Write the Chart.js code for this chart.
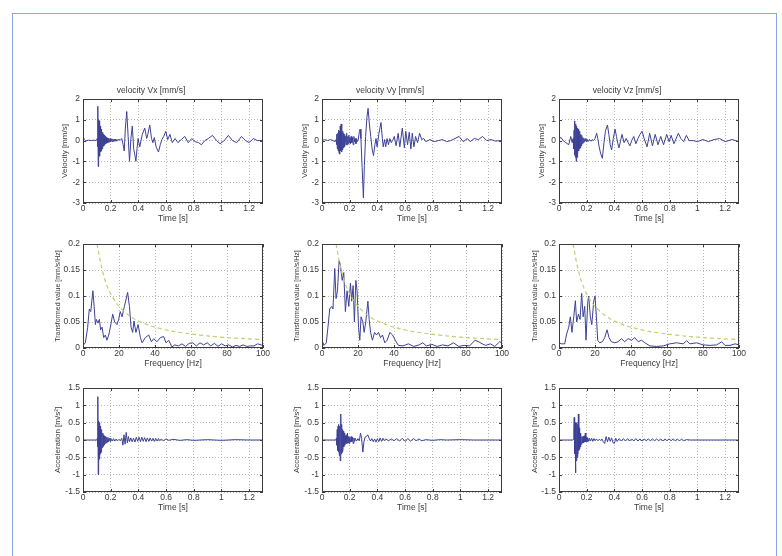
<!DOCTYPE html>
<html>
<head>
<meta charset="utf-8">
<title>Velocity, spectrum and acceleration</title>
<script src="https://cdn.jsdelivr.net/npm/chart.js@4.4.1/dist/chart.umd.min.js"></script>
<style>
body{margin:0;background:#fff;width:782px;height:556px;overflow:hidden;position:relative;}
#frame{position:absolute;left:12px;top:13px;width:763px;height:600px;border:1px solid #8aa5de;}
canvas{position:absolute;}
</style>
</head>
<body>
<div id="frame"></div>
<canvas id="v1" width="238" height="147" style="left:39px;top:82px"></canvas>
<canvas id="v2" width="238" height="147" style="left:278px;top:82px"></canvas>
<canvas id="v3" width="238" height="147" style="left:515px;top:82px"></canvas>
<canvas id="f1" width="238" height="138" style="left:39px;top:236px"></canvas>
<canvas id="f2" width="238" height="138" style="left:278px;top:236px"></canvas>
<canvas id="f3" width="238" height="138" style="left:515px;top:236px"></canvas>
<canvas id="a1" width="238" height="138" style="left:39px;top:380px"></canvas>
<canvas id="a2" width="238" height="138" style="left:278px;top:380px"></canvas>
<canvas id="a3" width="238" height="138" style="left:515px;top:380px"></canvas>
<script>
// tick labels
var timeTicks = [0, 0.2, 0.4, 0.6, 0.8, 1, 1.2];
var timeMax = 1.3;
var velTicks = [-3, -2, -1, 0, 1, 2];
var freqTicks = [0, 20, 40, 60, 80, 100];
var fftTicks = [0, 0.05, 0.1, 0.15, 0.2];
var accTicks = [-1.5, -1, -0.5, 0, 0.5, 1, 1.5];

// velocity Vx [mm/s]
var vxT = [0,0.01,0.02,0.04,0.06,0.08,0.095,0.103,0.106,0.108,0.110,0.112,0.114,0.116,0.118,0.120,0.122,0.124,0.126,0.128,0.130,0.132,0.134,0.136,0.138,0.141,0.144,0.147,0.150,0.153,0.156,0.160,0.164,0.168,0.172,0.176,0.18,0.185,0.19,0.195,0.2,0.205,0.21,0.215,0.22,0.225,0.23,0.235,0.24,0.245,0.25,0.26,0.27,0.28,0.29,0.298,0.306,0.316,0.326,0.336,0.346,0.356,0.366,0.372,0.382,0.39,0.398,0.41,0.428,0.446,0.46,0.468,0.482,0.495,0.505,0.515,0.528,0.545,0.558,0.57,0.583,0.598,0.612,0.628,0.645,0.665,0.685,0.71,0.735,0.76,0.785,0.81,0.835,0.855,0.88,0.905,0.935,0.965,0.99,1.02,1.05,1.08,1.11,1.145,1.175,1.2,1.23,1.26,1.3];
var vxV = [0.2,0.05,-0.02,0.02,0,0.02,0,0.1,-0.3,1.65,-1.25,1.0,-0.7,0.95,-0.6,0.8,-0.75,0.7,-0.55,0.65,-0.5,0.55,-0.45,0.45,-0.4,0.4,-0.3,0.3,-0.25,0.25,-0.2,0.2,-0.15,0.15,-0.12,0.12,-0.1,0.1,-0.08,0.1,-0.05,0.08,-0.05,0.08,-0.04,0.06,-0.03,0.07,-0.02,0.06,0,0.06,0.02,0.1,-0.2,-0.5,0.6,1.4,0.2,-1.0,0.1,0.7,-0.4,-0.6,-1.0,-0.4,0.1,-0.3,0.3,0.6,0.1,0.3,0.75,0.1,-0.1,0.15,-0.3,-0.55,-0.2,0.05,0.2,0.45,0.05,0.3,-0.1,0.1,-0.1,0.05,0.2,-0.1,0.1,-0.05,-0.1,-0.2,0,0.1,0.25,0,-0.15,0,0.25,0,-0.1,0.2,0,-0.1,0.1,0,0];

// velocity Vy [mm/s]
var vyT = [0,0.02,0.04,0.06,0.08,0.095,0.102,0.105,0.108,0.111,0.114,0.117,0.12,0.123,0.126,0.129,0.132,0.135,0.138,0.141,0.144,0.147,0.15,0.153,0.156,0.159,0.162,0.166,0.17,0.174,0.178,0.182,0.186,0.19,0.194,0.198,0.202,0.206,0.21,0.215,0.22,0.225,0.23,0.235,0.24,0.245,0.25,0.255,0.262,0.27,0.275,0.281,0.29,0.299,0.306,0.315,0.324,0.333,0.342,0.352,0.362,0.372,0.382,0.39,0.398,0.41,0.426,0.436,0.442,0.452,0.46,0.47,0.48,0.49,0.5,0.51,0.522,0.535,0.55,0.562,0.58,0.595,0.605,0.618,0.63,0.642,0.652,0.664,0.676,0.69,0.705,0.72,0.735,0.75,0.78,0.81,0.84,0.87,0.9,0.93,0.96,0.99,1.02,1.05,1.07,1.1,1.13,1.16,1.19,1.22,1.25,1.3];
var vyV = [0,0.05,0,0.05,0,-0.05,0.05,-0.2,0.3,-0.4,0.35,-0.5,0.5,-0.6,0.45,-0.65,0.7,-0.5,0.8,-0.55,0.5,-0.45,0.45,-0.35,0.35,-0.3,0.3,-0.25,0.2,-0.2,0.35,-0.2,0.2,-0.15,0.25,-0.1,0.15,-0.15,0.2,-0.1,0.15,-0.2,0.2,-0.05,0.1,-0.15,0.1,-0.05,0.05,0.45,0.55,0.1,-1.3,-2.75,-1.2,0.2,1.1,1.55,0.8,0.2,-0.4,-0.72,-0.2,0.1,-0.3,0.3,0.87,0.1,-0.3,0.05,-0.3,0.1,-0.2,0.1,-0.1,0,0.2,-0.25,0.35,-0.3,0.6,-0.35,0.45,-0.2,0.4,-0.4,0.35,-0.3,0.2,-0.1,0.35,0.05,0.1,-0.05,0.05,-0.05,0,0.05,-0.05,0,0.1,0.2,-0.05,0.1,-0.05,0.1,0.05,0.2,0,0.05,-0.02,0];

// velocity Vz [mm/s]
var vzT = [0,0.015,0.03,0.05,0.07,0.085,0.095,0.102,0.106,0.109,0.112,0.115,0.118,0.121,0.124,0.127,0.13,0.133,0.136,0.139,0.142,0.145,0.148,0.151,0.154,0.157,0.16,0.164,0.168,0.172,0.176,0.18,0.185,0.19,0.195,0.2,0.21,0.22,0.23,0.24,0.25,0.26,0.272,0.28,0.29,0.3,0.313,0.325,0.335,0.35,0.36,0.37,0.38,0.392,0.405,0.415,0.425,0.433,0.445,0.455,0.47,0.485,0.5,0.512,0.525,0.54,0.555,0.57,0.585,0.6,0.615,0.636,0.655,0.675,0.695,0.715,0.735,0.755,0.778,0.795,0.81,0.83,0.862,0.88,0.9,0.92,0.94,0.97,1.0,1.04,1.08,1.12,1.16,1.2,1.25,1.3];
var vzV = [0.1,0.15,0,-0.1,-0.2,0.2,-0.1,0.1,-0.4,0.5,-0.7,0.95,-0.8,0.8,-1.0,0.7,-0.8,0.6,-0.6,0.55,-0.5,0.45,-0.4,0.35,-0.35,0.3,-0.25,0.25,-0.15,0.15,-0.1,0.1,-0.05,0.1,-0.05,0.08,-0.05,0.06,-0.03,0.05,0,0.1,0.35,0.1,-0.3,-0.6,-0.85,-0.1,0.45,0.75,0.3,-0.2,-0.45,0.1,0.55,0.2,-0.15,-0.35,0,0.3,-0.1,0.1,-0.1,-0.25,0,0.2,-0.15,0.1,0.3,0.45,0.1,-0.3,0.35,-0.25,0.3,-0.2,0.2,-0.2,0.3,-0.05,0.25,-0.15,0.35,0.1,-0.05,0.25,0,0,-0.05,0.05,-0.05,0.05,0.1,-0.05,0.05,-0.05];

// spectra [mm/s/Hz]
var fxF = [0,1.3,2.6,3.5,4.3,5.5,6.2,6.9,7.4,8.3,9.1,9.8,10.6,11.5,12.4,13.3,14.3,15.2,16.5,17.6,18.9,19.8,20.7,21.7,23,24.8,25.8,26.7,27.6,28.3,29.4,30.6,31.9,32.8,34.6,36.5,38,39.3,41.1,43,44.8,46.1,47.6,49.4,51,53,55,57,59,61,63,65,67,69,71,73,75,77,79,81,83,85,87,89,91,93,95,97,99,100];
var fxV = [0.005,0.01,0.04,0.075,0.07,0.11,0.08,0.045,0.055,0.048,0.055,0.035,0.04,0.02,0.025,0.015,0.025,0.04,0.065,0.05,0.045,0.055,0.07,0.06,0.08,0.107,0.08,0.04,0.03,0.052,0.03,0.045,0.02,0.01,0.02,0.025,0.012,0.018,0.012,0.02,0.022,0.01,0.015,0.002,0.006,0.004,0.008,0.003,0.009,0.01,0.004,0.01,0.006,0.01,0.004,0.009,0.003,0.008,0.004,0.006,0.002,0.005,0.003,0.006,0.003,0.004,0.004,0.008,0.006,0.005];
var fyF = [0,1.1,2.4,3.3,4.3,5.4,6.1,7.1,7.8,8.6,9.5,10.2,11.2,12.1,13,13.9,14.9,15.8,16.5,17.3,18,18.8,19.5,20.3,21,21.7,22.7,23.4,24.3,25.5,26.2,27,28,29.2,30.3,31.4,32.5,33.6,34.9,36.2,37.7,39.2,40.7,42.4,45,48,51,54,56,58,61,64,67,70,73,76,79,82,85,87,89,91,93.5,96,98.7,100];
var fyV = [0.015,0.005,0.01,0.04,0.075,0.08,0.075,0.153,0.095,0.11,0.168,0.16,0.13,0.145,0.07,0.11,0.08,0.125,0.09,0.12,0.05,0.13,0.11,0.04,0.015,0.06,0.05,0.03,0.05,0.09,0.055,0.03,0.015,0.03,0.025,0.03,0.02,0.025,0.01,0.015,0.03,0.025,0.015,0.005,0.004,0.008,0.003,0.006,0.01,0.004,0.007,0.003,0.006,0.004,0.01,0.003,0.005,0.004,0.015,0.012,0.008,0.005,0.008,0.003,0.012,0.01];
var fzF = [0,1.3,3.2,4.1,5.4,6.3,7.2,8.2,9.1,9.8,10.8,11.7,12.6,13.4,14.3,15,16,16.5,17.4,18.2,19.3,20,20.8,21.5,22.6,24.1,25.4,26.7,27.8,29.1,31,32.8,34.7,36.5,38.4,40.3,42.1,44,45.8,47.7,50.5,54.2,57.9,61.6,65.3,69,70.9,72.7,76.4,80.1,83.9,87.6,90.4,92.2,95,97.8,100];
var fzV = [0.01,0.008,0.008,0.025,0.04,0.06,0.03,0.06,0.091,0.05,0.065,0.055,0.105,0.06,0.08,0.015,0.09,0.1,0.06,0.045,0.09,0.1,0.06,0.015,0.01,0.012,0.02,0.035,0.02,0.012,0.01,0.012,0.018,0.012,0.018,0.015,0.02,0.012,0.015,0.01,0.004,0.003,0.004,0.008,0.01,0.008,0.014,0.008,0.01,0.006,0.005,0.006,0.012,0.005,0.005,0.008,0.006];

// limit curve (dashed)
var limF = [7.8,9,10,12,14,16,18,20,25,30,35,40,50,60,70,80,90,100];
var limV = [0.2,0.178,0.16,0.133,0.114,0.1,0.089,0.08,0.064,0.053,0.046,0.04,0.032,0.027,0.023,0.02,0.018,0.016];

// acceleration [m/s2]
var axT = [0,0.05,0.1,0.104,0.106,0.108,0.110,0.112,0.114,0.116,0.118,0.120,0.122,0.124,0.126,0.128,0.130,0.132,0.134,0.137,0.140,0.143,0.146,0.149,0.152,0.156,0.160,0.164,0.168,0.172,0.176,0.18,0.185,0.19,0.195,0.2,0.21,0.22,0.23,0.24,0.25,0.26,0.27,0.28,0.288,0.296,0.304,0.312,0.32,0.328,0.336,0.345,0.355,0.365,0.375,0.385,0.395,0.405,0.415,0.425,0.435,0.445,0.455,0.465,0.475,0.485,0.495,0.505,0.515,0.525,0.535,0.545,0.555,0.565,0.58,0.6,0.62,0.65,0.7,0.75,0.8,0.9,1.0,1.1,1.2,1.3];
var axV = [0,0,0,0.05,-0.2,1.25,-1.0,0.55,-0.6,0.5,-0.55,0.45,-0.45,0.4,-0.4,0.35,-0.35,0.3,-0.3,0.25,-0.22,0.2,-0.18,0.15,-0.14,0.12,-0.1,0.1,-0.08,0.08,-0.06,0.07,-0.05,0.05,-0.04,0.05,-0.03,0.04,-0.03,0.03,-0.02,0.02,-0.02,0.05,-0.15,0.15,-0.12,0.22,-0.08,0.1,-0.05,0.06,-0.05,0.05,-0.06,0.08,-0.04,0.08,-0.05,0.08,-0.04,0.07,-0.05,0.06,-0.04,0.06,-0.03,0.05,-0.04,0.05,-0.03,0.04,-0.02,0.03,-0.02,0.03,-0.01,0.02,-0.01,0.01,-0.01,0.01,-0.01,0.01,0,0];
var ayT = [0,0.05,0.1,0.104,0.107,0.11,0.113,0.116,0.119,0.122,0.125,0.128,0.131,0.134,0.137,0.139,0.142,0.145,0.148,0.151,0.154,0.157,0.16,0.164,0.168,0.172,0.176,0.18,0.184,0.188,0.192,0.196,0.2,0.205,0.21,0.215,0.22,0.225,0.23,0.235,0.24,0.25,0.26,0.27,0.278,0.286,0.295,0.303,0.31,0.32,0.33,0.34,0.35,0.36,0.37,0.38,0.39,0.4,0.41,0.42,0.43,0.44,0.45,0.46,0.48,0.5,0.52,0.54,0.56,0.58,0.6,0.62,0.64,0.66,0.68,0.7,0.72,0.75,0.8,0.85,0.9,1.0,1.1,1.2,1.3];
var ayV = [0,0,0,0.05,-0.15,0.3,-0.3,0.4,-0.35,0.45,-0.45,0.4,-0.6,0.55,0.75,-0.4,0.45,-0.35,0.3,-0.3,0.25,-0.2,0.2,-0.15,0.12,-0.1,0.15,-0.1,0.2,-0.08,0.1,-0.1,0.08,-0.06,0.1,-0.05,0.08,-0.1,0.06,-0.04,0.05,-0.03,0.04,-0.02,0.2,0.05,-0.35,-0.05,0.08,0.1,0.15,0.05,-0.03,0.04,-0.05,0.03,-0.06,0.04,-0.05,0.06,-0.04,0.05,-0.02,0.03,-0.02,0.03,-0.02,0.04,-0.03,0.05,-0.04,0.04,-0.03,0.04,-0.02,0.03,-0.02,0.01,-0.01,0.01,0,0.01,0,0,0];
var azT = [0,0.05,0.1,0.104,0.107,0.11,0.113,0.116,0.119,0.122,0.125,0.128,0.131,0.134,0.137,0.14,0.143,0.146,0.149,0.152,0.155,0.158,0.162,0.166,0.17,0.174,0.178,0.182,0.186,0.19,0.194,0.198,0.202,0.208,0.214,0.22,0.228,0.236,0.244,0.252,0.26,0.27,0.28,0.29,0.3,0.31,0.32,0.33,0.34,0.35,0.36,0.37,0.38,0.39,0.4,0.41,0.42,0.435,0.45,0.465,0.48,0.495,0.51,0.525,0.54,0.555,0.57,0.585,0.6,0.615,0.63,0.645,0.66,0.675,0.69,0.705,0.72,0.735,0.75,0.765,0.78,0.795,0.81,0.825,0.84,0.855,0.87,0.885,0.9,0.92,0.95,1.3];
var azV = [0,0,0,0.02,0.3,0.65,-0.4,0.5,-0.95,0.4,-0.6,0.5,-0.5,0.45,-0.4,0.75,-0.3,0.35,-0.25,0.2,-0.2,0.15,-0.12,0.1,-0.08,0.1,-0.08,0.12,-0.05,0.2,-0.05,0.08,-0.05,0.06,-0.04,0.05,-0.03,0.05,-0.04,0.04,-0.02,0.03,-0.02,0.02,-0.01,0.03,-0.05,-0.1,0.1,-0.05,0.08,-0.04,0.06,-0.08,-0.1,0.05,-0.04,0.04,-0.03,0.04,-0.03,0.04,-0.03,0.03,-0.03,0.04,-0.03,0.03,-0.03,0.03,-0.02,0.03,-0.02,0.03,-0.02,0.03,-0.02,0.03,-0.03,0.03,-0.02,0.03,-0.02,0.03,-0.02,0.03,-0.03,0.03,-0.02,0.01,0,0];

var narrow = "'Liberation Sans Narrow', 'Liberation Sans', Arial, sans-serif";
var regular = "'Liberation Sans', Arial, sans-serif";
var lineCol = '#3d4195';
var limCol = '#c3cf6e';
var txtCol = '#3a3a3a';

function pts(xs, ys) {
  var out = [];
  for (var i = 0; i < xs.length; i++) out.push({x: xs[i], y: ys[i]});
  return out;
}

// matlab style box with inward ticks on all sides
var boxPlugin = {
  id: 'matlabBox',
  afterDatasetsDraw: function(chart) {
    var a = chart.chartArea, ctx = chart.ctx;
    var sx = chart.scales.x, sy = chart.scales.y;
    ctx.save();
    ctx.strokeStyle = '#3c3c3c';
    ctx.lineWidth = 1;
    ctx.beginPath();
    sx.ticks.forEach(function(t) {
      var px = Math.round(sx.getPixelForValue(t.value)) + 0.5;
      ctx.moveTo(px, a.bottom); ctx.lineTo(px, a.bottom - 3);
      ctx.moveTo(px, a.top); ctx.lineTo(px, a.top + 3);
    });
    sy.ticks.forEach(function(t) {
      var py = Math.round(sy.getPixelForValue(t.value)) + 0.5;
      ctx.moveTo(a.left, py); ctx.lineTo(a.left + 3, py);
      ctx.moveTo(a.right, py); ctx.lineTo(a.right - 3, py);
    });
    ctx.stroke();
    ctx.strokeRect(a.left + 0.5, a.top + 0.5, a.width - 1, a.height - 1);
    ctx.restore();
  }
};

function axis(tickVals, min, max, size, fit, label, labelFont, labelPad) {
  return {
    type: 'linear', min: min, max: max,
    afterBuildTicks: function(s) { s.ticks = tickVals.map(function(v) { return {value: v}; }); },
    afterFit: function(s) { if (fit.w) s.width = fit.w; else s.height = fit.h; },
    grid: {color: '#b8b8b8', lineWidth: 1, drawTicks: false},
    border: {display: false, dash: [1, 2]},
    ticks: {autoSkip: false, maxRotation: 0, padding: size, color: txtCol,
      font: {family: narrow, size: 8.5, lineHeight: '10px'},
      callback: function(v) { return String(v); }},
    title: {display: true, text: label, color: txtCol, font: labelFont, padding: labelPad}
  };
}

function makePlot(id, title, xTicks, xMax, xLabel, yTicks, yLabel, yFont, yPad, sets) {
  new Chart(document.getElementById(id), {
    type: 'line',
    data: {datasets: sets},
    options: {
      responsive: false, animation: false, events: [],
      layout: {padding: {top: title ? 0 : 8, right: 14, left: 0, bottom: 0}},
      plugins: {
        legend: {display: false}, tooltip: {enabled: false},
        title: {display: !!title, text: title, color: txtCol,
          font: {family: narrow, size: 8.5, weight: 'normal', lineHeight: '10px'},
          padding: {top: 4, bottom: 3}}
      },
      scales: {
        x: axis(xTicks, xTicks[0], xMax, 1, {h: 26}, xLabel,
          {family: narrow, size: 8.5, lineHeight: '10px'}, {top: 0, bottom: 5}),
        y: axis(yTicks, yTicks[0], yTicks[yTicks.length - 1], 3, {w: 44}, yLabel,
          yFont, {top: yPad, bottom: 0})
      }
    },
    plugins: [boxPlugin]
  });
}

function sig(xs, ys) {
  return {data: pts(xs, ys), borderColor: lineCol, borderWidth: 1, pointRadius: 0, tension: 0, fill: false};
}
function lim() {
  return {data: pts(limF, limV), borderColor: limCol, borderWidth: 1.2, borderDash: [4, 3], pointRadius: 0, tension: 0.3, fill: false};
}

var vFont = {family: regular, size: 8, lineHeight: '10px'};
var fFont = {family: regular, size: 7, lineHeight: '10px'};

makePlot('v1', 'velocity Vx [mm/s]', timeTicks, timeMax, 'Time [s]', velTicks, 'Velocity [mm/s]', vFont, 21, [sig(vxT, vxV)]);
makePlot('v2', 'velocity Vy [mm/s]', timeTicks, timeMax, 'Time [s]', velTicks, 'Velocity [mm/s]', vFont, 22, [sig(vyT, vyV)]);
makePlot('v3', 'velocity Vz [mm/s]', timeTicks, timeMax, 'Time [s]', velTicks, 'Velocity [mm/s]', vFont, 22, [sig(vzT, vzV)]);

makePlot('f1', '', freqTicks, 100, 'Frequency [Hz]', fftTicks, 'Transformed value [mm/s/Hz]', fFont, 14, [lim(), sig(fxF, fxV)]);
makePlot('f2', '', freqTicks, 100, 'Frequency [Hz]', fftTicks, 'Transformed value [mm/s/Hz]', fFont, 14, [lim(), sig(fyF, fyV)]);
makePlot('f3', '', freqTicks, 100, 'Frequency [Hz]', fftTicks, 'Transformed value [mm/s/Hz]', fFont, 15, [lim(), sig(fzF, fzV)]);

makePlot('a1', '', timeTicks, timeMax, 'Time [s]', accTicks, 'Acceleration [m/s\u00b2]', vFont, 14, [sig(axT, axV)]);
makePlot('a2', '', timeTicks, timeMax, 'Time [s]', accTicks, 'Acceleration [m/s\u00b2]', vFont, 14, [sig(ayT, ayV)]);
makePlot('a3', '', timeTicks, timeMax, 'Time [s]', accTicks, 'Acceleration [m/s\u00b2]', vFont, 15, [sig(azT, azV)]);
</script>
</body>
</html>
